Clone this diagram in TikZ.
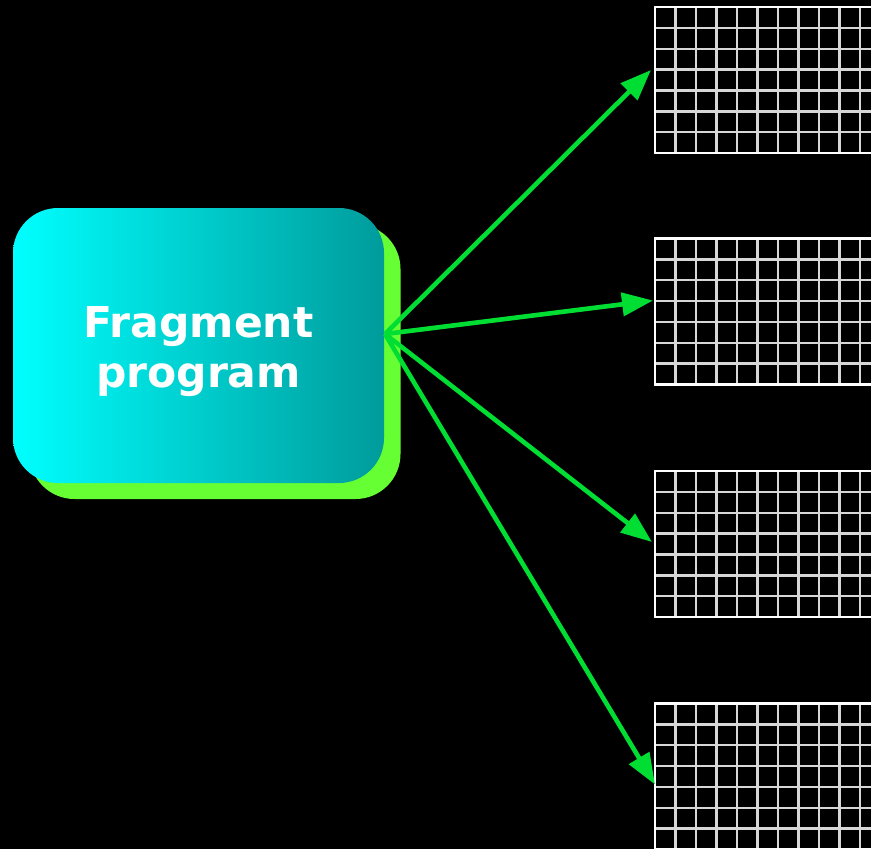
\documentclass[tikz,border=0pt]{standalone}
\usepackage{fontspec}
\newfontfamily\labelfont{DejaVu Sans}
\usetikzlibrary{arrows.meta,calc}
\definecolor{arrowgreen}{RGB}{0,221,51}
\definecolor{shadowgreen}{RGB}{102,255,51}
\definecolor{boxcyan}{RGB}{0,255,255}
\definecolor{boxmid}{RGB}{0,222,222}
\definecolor{boxteal}{RGB}{0,155,155}
\definecolor{gridline}{RGB}{215,215,215}
\tikzset{
  progbox/.style={rectangle, rounded corners=45pt, minimum width=371pt,
    minimum height=275pt, inner sep=0pt, outer sep=0pt},
  gridbox/.style={rectangle, draw=white, line width=2.8pt, minimum width=240pt,
    minimum height=146pt, anchor=north west, inner sep=0pt, outer sep=0pt},
  feed/.style={draw=arrowgreen, line width=4.6pt,
    -{Triangle[length=31pt,width=23pt]}},
}
\begin{document}
\begin{tikzpicture}[x=1pt,y=-1pt]
  \fill[black] (0,0) rectangle (871,849);
  \useasboundingbox (0,0) rectangle (871,849);
  \clip (0,0) rectangle (871,849);

  % program box with its offset green shadow
  \node[progbox, fill=shadowgreen] (progshadow) at (215,361.5) {};
  \node[progbox, left color=boxcyan, middle color=boxmid, right color=boxteal]
        (prog) at (198.5,345.5) {};
  \node[font=\labelfont\bfseries\fontsize{42.5}{50}\selectfont, text=white,
        align=center] (progtext) at ($(prog.center)+(0,6)$) {Fragment\\program};

  % four framebuffer grids
  \foreach \n/\top in {1/7, 2/238.5, 3/471, 4/703.5} {
    \node[gridbox] (g\n) at (655,\top) {};
    \foreach \i in {1,...,10}
      \draw[gridline, line width=2.4pt] ($(g\n.north west)+(20.5*\i,0)$) -- ($(g\n.south west)+(20.5*\i,0)$);
    \foreach \j in {1,...,6}
      \draw[gridline, line width=2.4pt] ($(g\n.north west)+(0,20.86*\j)$) -- ($(g\n.north east)+(0,20.86*\j)$);
    \node[gridbox, fill=none] at (655,\top) {};
  }

  % fan-out of fragment outputs
  \coordinate (src) at ($(prog.east)+(1,-11.5)$);
  \draw[feed] (src) -- ($(g1.west)+(-4,-10)$);
  \draw[feed] (src) -- ($(g2.west)+(-2,-11)$);
  \draw[feed] (src) -- ($(g3.west)+(-3,-2)$);
  \draw[feed] (src) -- ($(g4.west)+(0,8)$);
\end{tikzpicture}
\end{document}
